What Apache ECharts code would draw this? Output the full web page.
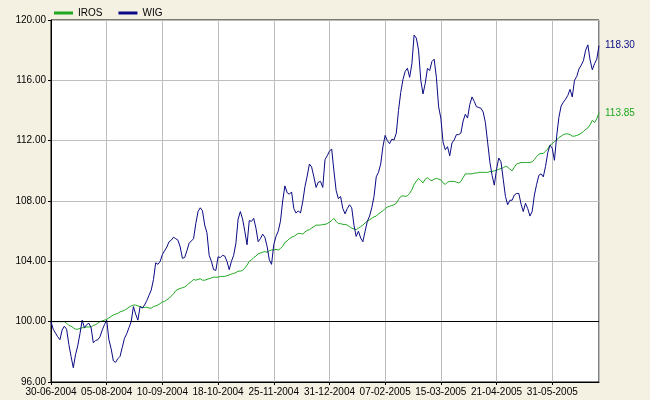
<!DOCTYPE html>
<html>
<head>
<meta charset="utf-8">
<script src="https://cdn.jsdelivr.net/npm/echarts@6/dist/echarts.min.js"></script>
<style>
html,body{margin:0;padding:0;background:#F4F1E3;}
#chart{width:650px;height:400px;}
</style>
</head>
<body>
<div id="chart"></div>
<script>
var seriesNames = ["IROS", "WIG"];
var xTickLabels = ["30-06-2004","05-08-2004","10-09-2004","18-10-2004","25-11-2004","31-12-2004","07-02-2005","15-03-2005","21-04-2005","31-05-2005"];
var yTicks = [96, 100, 104, 108, 112, 116, 120];

var irosValues = [
100.0,100.0,100.0,100.0,100.0,100.0,100.0,99.9,99.75,99.7,
99.6,99.5,99.5,99.55,99.6,99.6,99.65,99.65,99.65,99.75,
99.8,99.9,100.0,100.05,100.1,100.15,100.25,100.35,100.45,100.5,
100.55,100.65,100.7,100.75,100.85,100.95,101.05,101.1,101.1,101.05,
101.0,100.95,100.95,100.95,100.9,100.9,101.0,101.05,101.1,101.2,
101.3,101.35,101.45,101.55,101.7,101.85,102.05,102.15,102.2,102.25,
102.3,102.4,102.55,102.65,102.8,102.75,102.8,102.85,102.75,102.75,
102.8,102.85,102.9,102.95,102.95,102.95,103.0,103.0,103.0,103.05,
103.1,103.15,103.2,103.25,103.35,103.35,103.4,103.55,103.75,104.0,
104.1,104.25,104.35,104.5,104.55,104.6,104.65,104.6,104.7,104.75,
104.75,104.8,104.75,104.85,105.0,105.25,105.35,105.5,105.6,105.65,
105.75,105.85,105.85,105.8,105.95,106.05,106.1,106.2,106.3,106.4,
106.4,106.4,106.45,106.45,106.5,106.6,106.7,106.85,106.65,106.5,
106.5,106.45,106.45,106.4,106.3,106.2,106.15,106.1,106.2,106.3,
106.4,106.55,106.65,106.75,106.85,106.95,107.0,107.15,107.25,107.35,
107.5,107.6,107.65,107.7,107.75,107.85,108.1,108.3,108.35,108.3,
108.35,108.5,108.75,109.1,109.3,109.5,109.35,109.2,109.45,109.55,
109.4,109.35,109.45,109.5,109.45,109.4,109.2,109.1,109.25,109.3,
109.3,109.3,109.25,109.2,109.3,109.55,109.8,109.8,109.8,109.8,
109.85,109.85,109.9,109.9,109.9,109.9,109.9,109.95,109.95,110.0,
110.05,110.1,110.15,110.2,110.3,110.25,110.1,110.0,110.25,110.45,
110.5,110.55,110.55,110.55,110.55,110.55,110.6,110.75,110.95,111.1,
111.15,111.15,111.3,111.45,111.7,111.8,111.95,112.05,112.2,112.3,
112.4,112.45,112.45,112.4,112.3,112.3,112.35,112.4,112.5,112.6,
112.75,112.85,113.05,113.35,113.2,113.45,113.85
];

var wigValues = [
100.0,99.5,99.25,99.0,98.8,99.45,99.7,99.5,98.5,97.7,
96.95,97.8,98.4,99.2,100.1,99.6,99.8,99.9,99.6,98.6,
98.75,98.8,99.0,99.45,99.8,100.1,98.8,98.2,97.4,97.3,
97.55,97.7,98.3,98.9,99.2,99.6,100.0,101.0,100.5,100.1,
101.0,100.9,101.1,101.4,101.75,102.1,102.8,103.9,103.8,104.0,
104.45,104.7,104.95,105.3,105.4,105.6,105.5,105.4,104.95,104.2,
104.25,104.7,105.2,105.35,105.5,106.5,107.3,107.55,107.35,106.4,
105.9,104.4,104.0,103.45,103.4,104.3,104.25,104.4,104.35,104.0,
103.45,104.0,104.4,105.2,106.8,107.3,106.8,106.0,105.1,106.7,
106.65,106.85,106.2,105.3,105.5,105.8,105.6,105.0,104.1,103.8,
105.1,105.65,106.0,106.65,108.0,109.0,108.55,108.45,108.6,107.5,
107.2,107.35,107.2,107.95,108.95,109.65,110.45,110.25,109.6,108.9,
109.25,109.3,108.9,110.75,111.0,111.3,111.45,110.0,108.7,108.15,
108.3,107.5,107.15,107.5,107.75,107.55,106.4,105.65,106.0,105.55,
105.3,106.0,106.65,107.0,107.55,108.3,109.6,109.9,110.45,111.6,
112.35,112.0,111.8,112.1,112.05,112.5,114.0,115.2,116.05,116.6,
116.8,116.2,117.1,119.0,118.8,118.0,116.0,115.1,115.8,116.8,
116.65,117.25,117.4,116.2,114.25,113.5,111.9,111.4,111.6,111.0,
111.85,112.05,112.4,112.4,112.5,113.3,113.75,113.5,114.4,114.9,
114.6,114.25,114.2,114.15,113.9,113.2,111.9,110.6,109.7,109.05,
110.1,110.85,110.6,109.45,108.3,107.75,108.05,108.05,108.4,108.5,
108.5,107.8,107.3,107.85,107.5,107.0,107.3,108.4,109.1,109.7,
109.8,109.6,110.3,111.2,111.7,111.5,110.7,112.3,113.55,114.3,
114.55,114.75,115.0,115.4,114.9,116.0,116.25,116.75,117.0,117.3,
118.0,118.35,117.35,116.7,117.1,117.4,118.3
];

var colors = { IROS: "#1FA71F", WIG: "#0A0A84" };
var labelFont = "Liberation Sans, Arial, sans-serif";

function toPairs(arr) {
  var out = [];
  for (var i = 0; i < arr.length; i++) out.push([i, arr[i]]);
  return out;
}
var lastIndex = wigValues.length - 1;

var chart = echarts.init(document.getElementById('chart'), null, {renderer: 'canvas'});
chart.setOption({
  animation: false,
  backgroundColor: "#F4F1E3",
  textStyle: { fontFamily: labelFont },
  legend: {
    left: 49, top: 3, itemWidth: 19, itemHeight: 3, itemGap: 16,
    icon: 'rect',
    textStyle: { fontSize: 10, color: "#000", fontFamily: labelFont },
    data: seriesNames
  },
  grid: {
    left: 51, right: 51, top: 20, bottom: 18,
    show: true, backgroundColor: "#FFFFFF", borderColor: "#000", borderWidth: 1
  },
  xAxis: {
    type: 'value', min: 0, max: lastIndex, interval: 25,
    axisLine: { show: true, lineStyle: { color: "#000", width: 1 } },
    axisTick: { show: true, length: 3, lineStyle: { color: "#000" } },
    splitLine: { show: true, lineStyle: { color: "#BDBDBD", width: 1 } },
    axisLabel: {
      fontSize: 10, color: "#000", margin: 5, showMaxLabel: false, showMinLabel: true,
      hideOverlap: false,
      formatter: function (v) {
        if (v % 25 !== 0) return '';
        var k = v / 25;
        return xTickLabels[k] || '';
      }
    }
  },
  yAxis: {
    type: 'value', min: yTicks[0], max: yTicks[yTicks.length - 1], interval: 4,
    axisLine: { show: true, lineStyle: { color: "#000", width: 1 } },
    axisTick: { show: true, length: 3, lineStyle: { color: "#000" } },
    splitLine: { show: true, lineStyle: { color: "#BDBDBD", width: 1 } },
    axisLabel: {
      fontSize: 10, color: "#000", margin: 5,
      formatter: function (v) { return v.toFixed(2); }
    }
  },
  series: [
    {
      name: "IROS", type: 'line', data: toPairs(irosValues),
      showSymbol: false, symbol: 'none',
      lineStyle: { color: colors.IROS, width: 1 },
      itemStyle: { color: colors.IROS },
      endLabel: {
        show: true, distance: 6, fontSize: 10, color: colors.IROS, fontFamily: labelFont,
        formatter: function (p) { return p.value[1].toFixed(2); }
      },
      markLine: {
        silent: true, symbol: ['none', 'none'],
        label: { show: false },
        lineStyle: { color: "#000", width: 1, type: 'solid' },
        data: [{ yAxis: 100 }]
      },
      z: 2
    },
    {
      name: "WIG", type: 'line', data: toPairs(wigValues),
      showSymbol: false, symbol: 'none',
      lineStyle: { color: colors.WIG, width: 1 },
      itemStyle: { color: colors.WIG },
      endLabel: {
        show: true, distance: 6, fontSize: 10, color: colors.WIG, fontFamily: labelFont,
        formatter: function (p) { return p.value[1].toFixed(2); }
      },
      z: 3
    }
  ]
});
</script>
</body>
</html>
